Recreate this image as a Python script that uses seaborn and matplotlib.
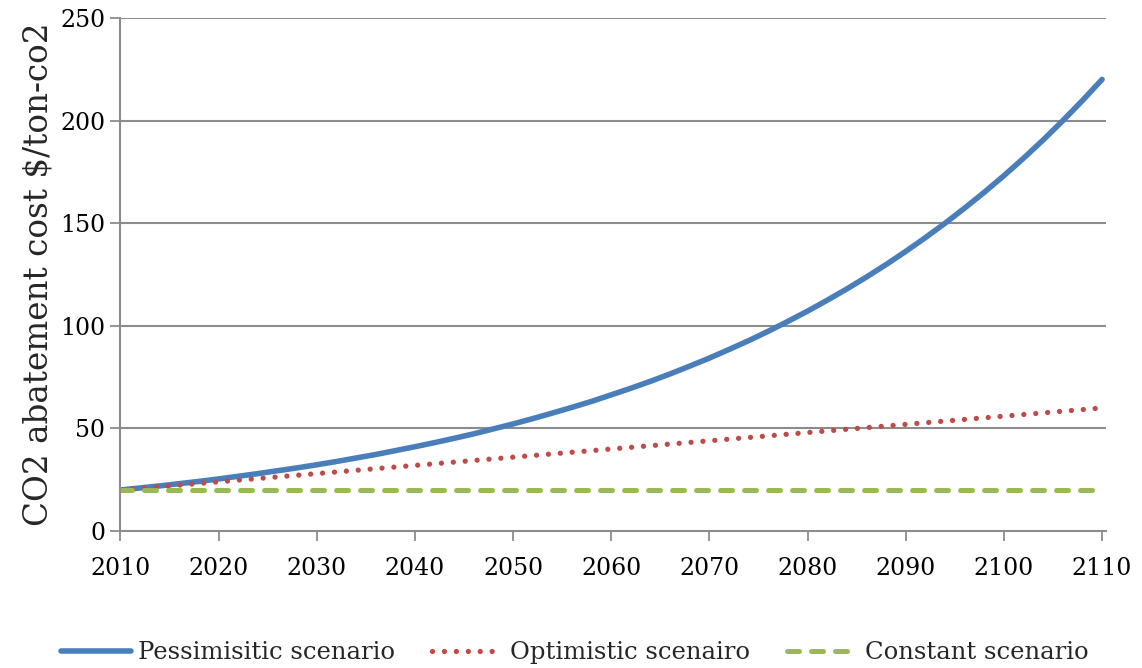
import matplotlib
matplotlib.use("Agg")
import matplotlib.pyplot as plt
import seaborn as sns
import pandas as pd

# Pessimistic abatement cost path, $/ton-CO2, every two years
years_p = list(range(2010, 2111, 2))
pessimistic = [20.0, 21.0, 22.0, 23.1, 24.2, 25.4, 26.7, 28.0, 29.4, 30.8,
               32.3, 33.9, 35.6, 37.3, 39.2, 41.1, 43.1, 45.2, 47.4, 49.8,
               52.2, 54.8, 57.5, 60.3, 63.2, 66.4, 69.6, 73.0, 76.6, 80.4,
               84.3, 88.5, 92.8, 97.4, 102.2, 107.2, 112.5, 118.0, 123.8, 129.9,
               136.3, 143.0, 150.0, 157.4, 165.1, 173.2, 181.7, 190.6, 200.0, 209.8,
               220.1]

# Optimistic and constant paths, every ten years
years_o = [2010, 2020, 2030, 2040, 2050, 2060, 2070, 2080, 2090, 2100, 2110]
optimistic = [20, 24, 28, 32, 36, 40, 44, 48, 52, 56, 60]
constant = [20, 20, 20, 20, 20, 20, 20, 20, 20, 20, 20]

labels = ["Pessimisitic scenario", "Optimistic scenairo", "Constant scenario"]
colors = ["#4A7EBB", "#BE4B48", "#98B954"]

x_ticks = [2010, 2020, 2030, 2040, 2050, 2060, 2070, 2080, 2090, 2100, 2110]
y_ticks = [0, 50, 100, 150, 200, 250]

df_p = pd.DataFrame({"year": years_p, "cost": pessimistic})
df_o = pd.DataFrame({"year": years_o, "cost": optimistic})
df_c = pd.DataFrame({"year": years_o, "cost": constant})

sns.set_theme(style="white")
plt.rcParams["font.family"] = ["DejaVu Serif"]

fig = plt.figure(figsize=(11.42, 6.68), dpi=100)
ax = fig.add_axes([0.1055, 0.205, 0.863, 0.768])

grid_color = "#8C8C8C"
for y in y_ticks[1:]:
    ax.axhline(y, color=grid_color, lw=1.5, zorder=0)

sns.lineplot(data=df_p, x="year", y="cost", ax=ax, color=colors[0],
             lw=4.0, label=labels[0], solid_capstyle="round")
sns.lineplot(data=df_o, x="year", y="cost", ax=ax, color=colors[1],
             lw=3.8, label=labels[1], linestyle=(0, (0.01, 2.25)),
             dash_capstyle="round")
sns.lineplot(data=df_c, x="year", y="cost", ax=ax, color=colors[2],
             lw=3.6, label=labels[2], linestyle=(0, (2.4, 2.4)),
             dash_capstyle="round")

ax.set_xlim(2010, 2110.4)
ax.set_ylim(0, 250)
ax.set_xticks(x_ticks)
ax.set_yticks(y_ticks)
ax.set_xticklabels([str(v) for v in x_ticks])
ax.set_yticklabels([str(v) for v in y_ticks])
ax.tick_params(axis="both", labelsize=17, colors="black",
               length=7, width=1.3, direction="out")
ax.tick_params(axis="x", bottom=True, color=grid_color, pad=12)
ax.tick_params(axis="y", left=True, color=grid_color, pad=4)
for s in ["top", "right"]:
    ax.spines[s].set_visible(False)
for s in ["left", "bottom"]:
    ax.spines[s].set_color(grid_color)
    ax.spines[s].set_linewidth(1.5)

ax.set_xlabel("")
ax.set_ylabel("CO2 abatement cost $/ton-co2", fontsize=23.5, labelpad=4)

ax.get_legend().remove()
handles, _ = ax.get_legend_handles_labels()
fig.legend(handles, labels, loc="lower center", bbox_to_anchor=(0.503, -0.027),
           ncol=3, frameon=False, fontsize=17.5, handlelength=2.88,
           columnspacing=1.55, handletextpad=0.3)

fig.savefig("out.png", dpi=100, facecolor="white")
